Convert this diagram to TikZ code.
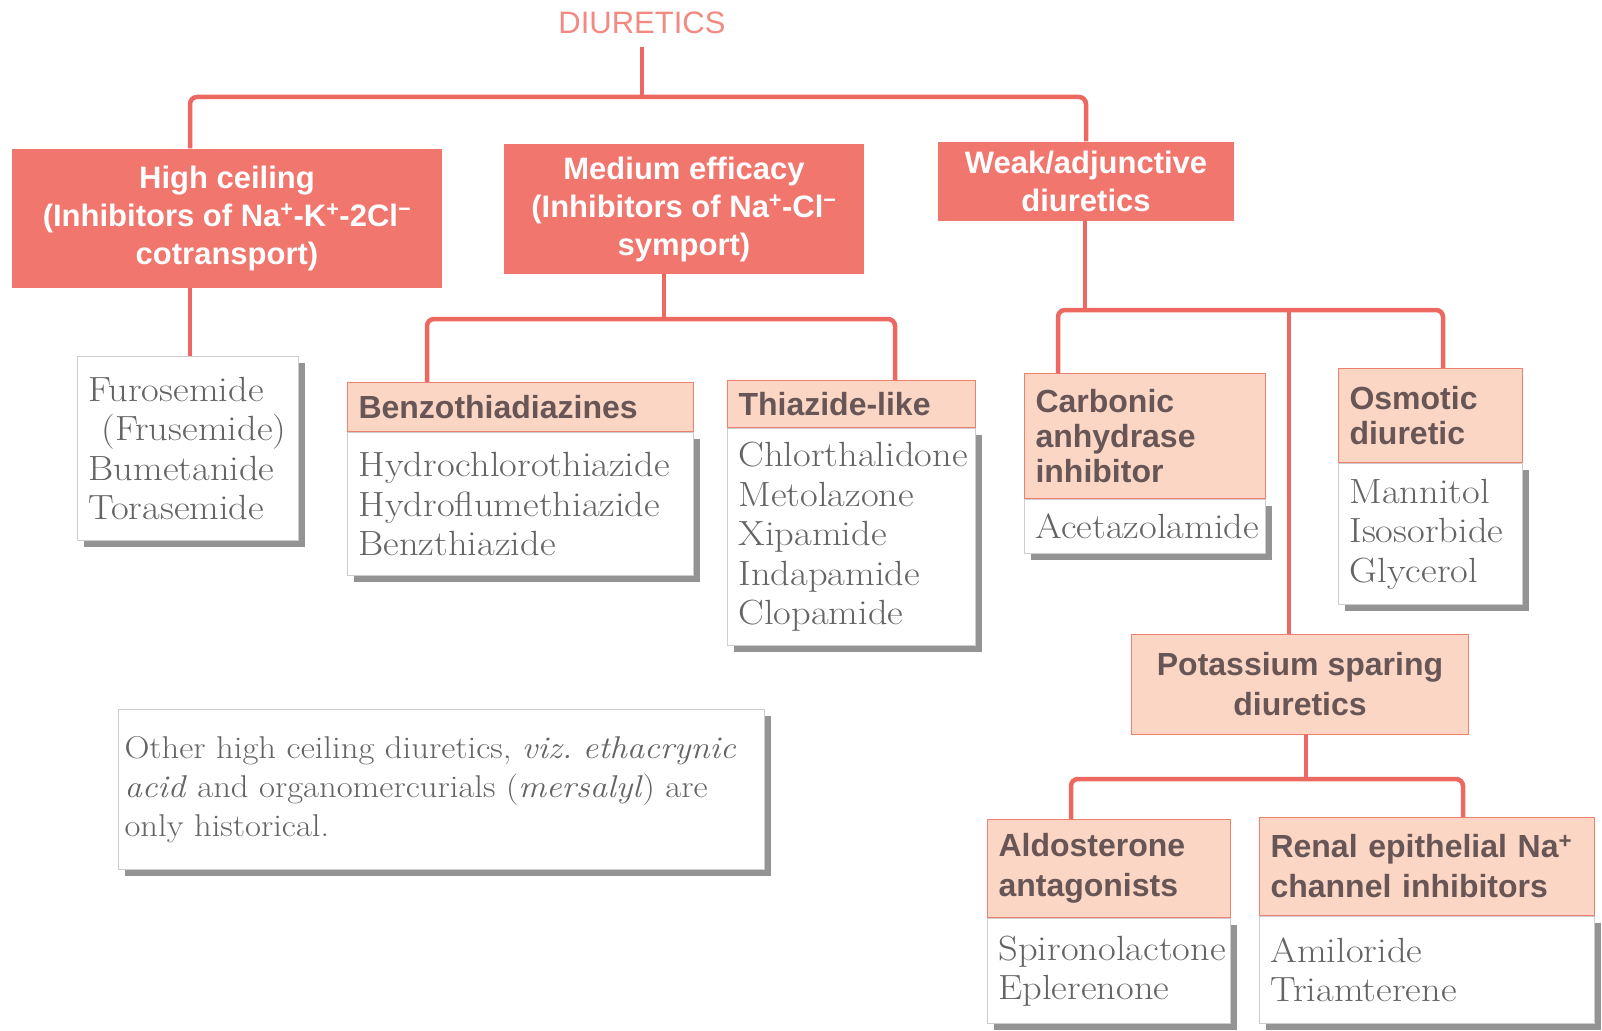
\documentclass[tikz,border=0pt]{standalone}
\usepackage{fontspec}
\newfontfamily\headfont{Liberation Sans}
\newfontfamily\drugfont{Latin Modern Roman}[FakeStretch=1.1]
\usetikzlibrary{shadows}
\definecolor{salmon}{RGB}{240,118,110}
\definecolor{linkred}{RGB}{238,104,98}
\definecolor{peach}{RGB}{251,214,196}
\definecolor{peachline}{RGB}{238,128,112}
\definecolor{headtext}{RGB}{104,86,86}
\definecolor{drugtext}{RGB}{100,100,100}
\definecolor{boxline}{RGB}{205,205,205}
\definecolor{titlered}{RGB}{242,138,130}

\begin{document}
\frenchspacing
\begin{tikzpicture}[x=1pt, y=-1pt,
    link/.style={line width=4.5pt, draw=linkred, rounded corners=7pt},
    bighead/.style={fill=salmon, text=white, align=center, inner sep=0pt,
      font=\headfont\bfseries\fontsize{31}{38}\selectfont},
    subhead/.style={fill=peach, draw=peachline, line width=1pt, text=headtext,
      align=left, inner xsep=11pt, anchor=north west,
      font=\headfont\bfseries\fontsize{32}{40}\selectfont},
    drugs/.style={fill=white, draw=boxline, line width=1pt, text=drugtext,
      align=left, inner xsep=11pt, anchor=north west,
      font=\drugfont\fontsize{35}{39.5}\selectfont,
      drop shadow={shadow xshift=6pt, shadow yshift=-6pt, fill=black!42, opacity=1}}]
  \useasboundingbox (0,0) rectangle (1602,1030);
  % Title
  \node[text=titlered, inner ysep=13pt, font=\headfont\fontsize{31}{31}\selectfont]
    (title) at (642,23) {DIURETICS};
  % Main classes
  \node[bighead, minimum width=430pt, minimum height=139pt] (hc) at (227,218)
    {High ceiling\\(Inhibitors of Na\textsuperscript{+}-K\textsuperscript{+}-2Cl\textsuperscript{−}\\cotransport)};
  \node[bighead, minimum width=360pt, minimum height=130pt] (mid) at (684,209)
    {Medium efficacy\\(Inhibitors of Na\textsuperscript{+}-Cl\textsuperscript{−}\\symport)};
  \node[bighead, minimum width=296pt, minimum height=79pt] (weak) at (1086,181)
    {Weak/adjunctive\\diuretics};
  % High ceiling drugs
  \node[drugs, text width=199pt, minimum height=184pt] (furo) at (77,356)
    {Furosemide\\\hspace*{13pt}(Frusemide)\\Bumetanide\\Torasemide};
  % Thiazides
  \node[subhead, text width=324pt, minimum height=49pt] (benz-h) at (347,382) {Benzothiadiazines};
  \node[drugs, text width=324pt, minimum height=143pt] (benz-b) at (benz-h.south west)
    {Hydrochlorothiazide\\Hydroflumethiazide\\Benzthiazide};
  \node[subhead, text width=226pt, minimum height=47pt] (thia-h) at (727,380) {Thiazide-like};
  \node[drugs, text width=226pt, minimum height=217pt] (thia-b) at (thia-h.south west)
    {Chlorthalidone\\Metolazone\\Xipamide\\Indapamide\\Clopamide};
  % Weak diuretics
  \node[subhead, text width=219pt, minimum height=125pt,
    font=\headfont\bfseries\fontsize{32}{35}\selectfont] (carb-h) at (1024,373)
    {Carbonic\\anhydrase\\inhibitor};
  \node[drugs, text width=219pt, minimum height=54pt] (carb-b) at (carb-h.south west) {Acetazolamide};
  \node[subhead, text width=162pt, minimum height=94pt,
    font=\headfont\bfseries\fontsize{32}{35}\selectfont] (osm-h) at (1338,368)
    {Osmotic\\diuretic};
  \node[drugs, text width=162pt, minimum height=141pt] (osm-b) at (osm-h.south west)
    {Mannitol\\Isosorbide\\Glycerol};
  % Potassium sparing
  \node[subhead, anchor=center, align=center, minimum width=337pt, minimum height=100pt]
    (pot) at (1300,684) {Potassium sparing\\diuretics};
  \node[subhead, text width=221pt, minimum height=98pt] (aldo-h) at (987,819)
    {Aldosterone\\antagonists};
  \node[drugs, text width=221pt, minimum height=105pt] (aldo-b) at (aldo-h.south west)
    {Spironolactone\\Eplerenone};
  \node[subhead, text width=313pt, minimum height=98pt] (ren-h) at (1259,817)
    {Renal epithelial Na\textsuperscript{+}\\channel inhibitors};
  \node[drugs, text width=313pt, minimum height=107pt] (ren-b) at (ren-h.south west)
    {Amiloride\\Triamterene};
  % Note
  \node[drugs, inner xsep=6pt, text width=634pt, minimum height=160pt,
    font=\drugfont\fontsize{31.5}{39}\selectfont] (note) at (118,709)
    {Other high ceiling diuretics, \textit{viz. ethacrynic}\\\textit{acid} and organomercurials (\textit{mersalyl}) are\\only historical.};
  % Junctions of the tree
  \coordinate (top) at (642,97);
  \coordinate (hc-x) at (190,0);
  \coordinate (midJ) at (664,319);
  \coordinate (weakJ) at (1085,310);
  \coordinate (potJ) at (1306,779);
  \coordinate (benz-x) at (427,0);
  \coordinate (thia-x) at (895,0);
  \coordinate (carb-x) at (1058,0);
  \coordinate (osm-x) at (1443,0);
  \coordinate (pot-x) at (1289,0);
  \coordinate (aldo-x) at (1071,0);
  \coordinate (ren-x) at (1463,0);
  % Connectors
  \draw[link] (title.south) -- (top);
  \draw[link] (hc.north -| hc-x) |- (top) -| (weak.north);
  \draw[link] (hc.south -| hc-x) -- (furo.north -| hc-x);
  \draw[link] (mid.south -| midJ) -- (midJ);
  \draw[link] (weak.south -| weakJ) -- (weakJ);
  \draw[link] (pot.south -| potJ) -- (potJ);
  \draw[link] (weakJ -| pot-x) -- (pot.north -| pot-x);
  \foreach \l/\j/\r in {benz/midJ/thia, carb/weakJ/osm, aldo/potJ/ren}{
    \draw[link] (\l-h.north -| \l-x) |- (\j) -| (\r-h.north -| \r-x);
  }
\end{tikzpicture}
\end{document}
